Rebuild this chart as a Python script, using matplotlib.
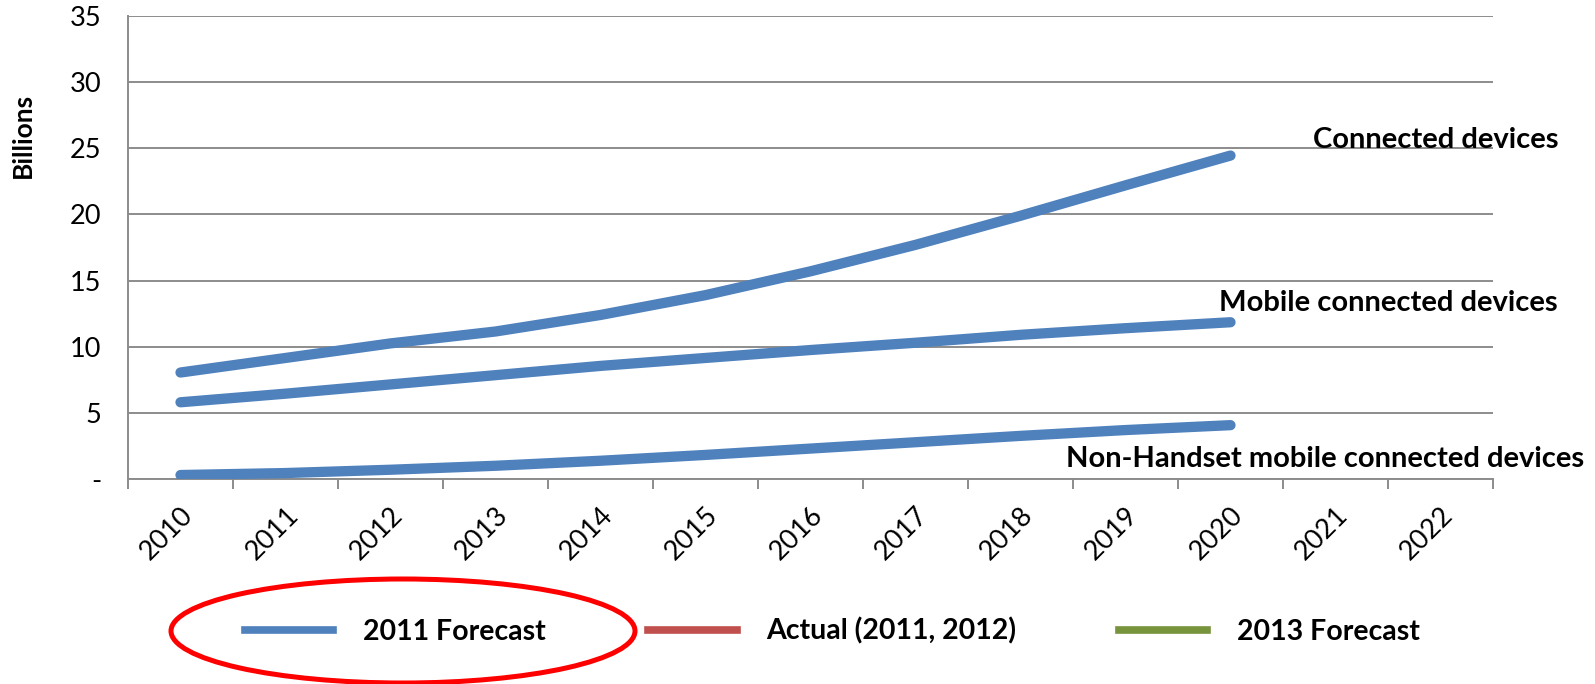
import matplotlib
matplotlib.use("Agg")
import matplotlib.pyplot as plt
from matplotlib.lines import Line2D
from matplotlib.patches import Ellipse
from matplotlib.ticker import FuncFormatter
import numpy as np

plt.rcParams['font.family'] = ['Lato', 'DejaVu Sans']

# categories on the x axis
years = ['2010', '2011', '2012', '2013', '2014', '2015', '2016',
         '2017', '2018', '2019', '2020', '2021', '2022']

# 2011 forecast, billions (2010-2020)
connected = [8.05, 9.15, 10.25, 11.15, 12.4, 13.9, 15.7, 17.7, 19.9, 22.2, 24.45]
mobile = [5.8, 6.45, 7.15, 7.85, 8.55, 9.15, 9.75, 10.3, 10.9, 11.4, 11.85]
non_handset = [0.3, 0.45, 0.7, 1.0, 1.38, 1.82, 2.3, 2.78, 3.26, 3.7, 4.07]

series_labels = ['Connected devices', 'Mobile connected devices',
                 'Non-Handset mobile connected devices']
legend_labels = ['2011 Forecast', 'Actual (2011, 2012)', '2013 Forecast']
legend_colors = ['#4F81BD', '#C0504D', '#77933C']

W, H = 1595, 684
fig = plt.figure(figsize=(W / 100, H / 100), dpi=100)
ax = fig.add_axes([128 / W, 1 - 479 / H, (1493 - 128) / W, (479 - 16) / H])

x = np.arange(len(connected))
for vals in [connected, mobile, non_handset]:
    ax.plot(x, vals, color='#4F81BD', lw=7.4, solid_capstyle='round', zorder=3)

ax.set_xlim(-0.5, len(years) - 0.5)
ax.set_ylim(0, 35)

# axes look (Excel style)
gray = '#8C8C8C'
ax.set_yticks(np.arange(0, 36, 5))
ax.yaxis.grid(True, color=gray, lw=1.4)
ax.set_axisbelow(True)
for s in ['top', 'right']:
    ax.spines[s].set_visible(False)
for s in ['left', 'bottom']:
    ax.spines[s].set_color(gray)
    ax.spines[s].set_linewidth(1.4)
ax.yaxis.set_major_formatter(FuncFormatter(lambda v, p: '-' if v == 0 else '%d' % v))
ax.tick_params(axis='y', length=0, pad=19, labelsize=19.5)

ax.set_xticks(np.arange(len(years)))
ax.set_xticklabels(years, rotation=45, ha='right', rotation_mode='anchor')
ax.set_xticks(np.arange(len(years) + 1) - 0.5, minor=True)
ax.tick_params(axis='x', which='major', length=0, pad=17, labelsize=19.5)
ax.tick_params(axis='x', which='minor', length=7, width=1.4, color=gray, direction='out')

fig.text(23 / W, 1 - 135 / H, 'Billions', rotation=90, fontsize=19,
         fontweight='bold', ha='center', va='center')

# series labels to the right of the lines
label_pos = [(13.12, 25.6), (13.12, 13.3), (13.37, 1.5)]
for txt, (lx, ly) in zip(series_labels, label_pos):
    ax.text(lx, ly, txt, fontsize=21, fontweight='bold', ha='right',
            va='center', clip_on=False)

handles = [Line2D([], [], color=c, lw=5.5) for c in legend_colors]
leg = fig.legend(handles, legend_labels, loc='center', ncol=3,
                 bbox_to_anchor=(0.522, 1 - 631 / H), frameon=False,
                 prop={'weight': 'bold', 'size': 20.5}, handlelength=3.1,
                 handletextpad=1.05, columnspacing=3.6)

ell = Ellipse((403 / W, 1 - 631 / H), 464 / W, 104 / H, transform=fig.transFigure,
              fill=False, edgecolor='#FF0000', lw=3.6)
fig.patches.append(ell)

fig.savefig('out.png', dpi=100)
